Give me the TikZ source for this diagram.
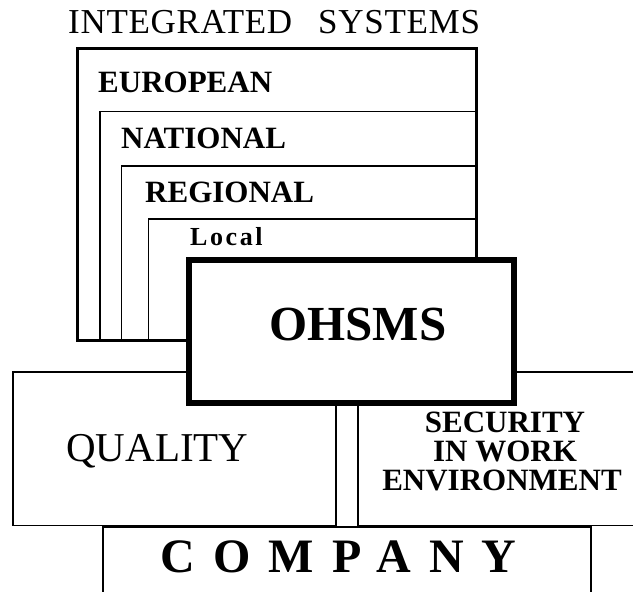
\documentclass[tikz,border=0pt]{standalone}
\usepackage{fontspec}
\setmainfont{Liberation Serif}
\begin{document}
\begin{tikzpicture}[x=1pt,y=-1pt,
  frame/.style={draw=black,line width=3pt},
  thin/.style={draw=black,line width=1.5pt},
  core/.style={draw=black,fill=white,line width=6pt},
  base/.style={draw=black,line width=2pt},
  level/.style={inner sep=0pt,anchor=base west,font=\bfseries\fontsize{31}{31}\selectfont},
  sec/.style={inner sep=0pt,anchor=base,font=\bfseries\fontsize{31}{31}\selectfont}]
\useasboundingbox (0,0) rectangle (633,592);
\fill[white] (0,0) rectangle (633,592);

% heading
\node[inner sep=0pt,anchor=base west,font=\fontsize{35}{35}\selectfont\addfontfeatures{LetterSpace=2}] (title) at (68,33) {INTEGRATED\hspace{26pt}SYSTEMS};

% nested levels of integrated systems
\draw[frame] (77,48.5) rectangle (476.5,340);
\draw[thin] (100,340) -- (100,111.5) -- (476.5,111.5);
\draw[thin] (121.5,340) -- (121.5,166) -- (476.5,166);
\draw[thin] (148.5,340) -- (148.5,219) -- (476.5,219);
\node[level] (european) at (98,92) {EUROPEAN};
\node[level] (national) at (121,148) {NATIONAL};
\node[level] (regional) at (145,202) {REGIONAL};
\node[inner sep=0pt,anchor=base west,font=\bfseries\fontsize{26}{26}\selectfont\addfontfeatures{LetterSpace=10}] (local) at (190,245) {Local};

% quality and work environment blocks
\draw[thin] (13,372) rectangle (336,525.5);
\draw[thin] (358,372) rectangle (650,525.5);
\node[inner sep=0pt,anchor=base west,font=\fontsize{41}{41}\selectfont] (quality) at (66,461.5) {QUALITY};
\node[sec] (sec1) at (505,432) {SECURITY};
\node[sec] (sec2) at (505,461) {IN WORK};
\node[sec] (sec3) at (502,490) {ENVIRONMENT};

% the OHSMS core
\draw[core] (189,259.7) rectangle (514,403.3);
\node[inner sep=0pt,anchor=base,font=\bfseries\fontsize{49}{49}\selectfont] (ohsms) at (358,340) {OHSMS};

% company base
\draw[base] (103,526.5) rectangle (591,620);
\node[inner sep=0pt,anchor=base west,font=\bfseries\fontsize{48}{48}\selectfont\addfontfeatures{LetterSpace=38}] (company) at (160,572) {COMPANY};
\end{tikzpicture}
\end{document}
